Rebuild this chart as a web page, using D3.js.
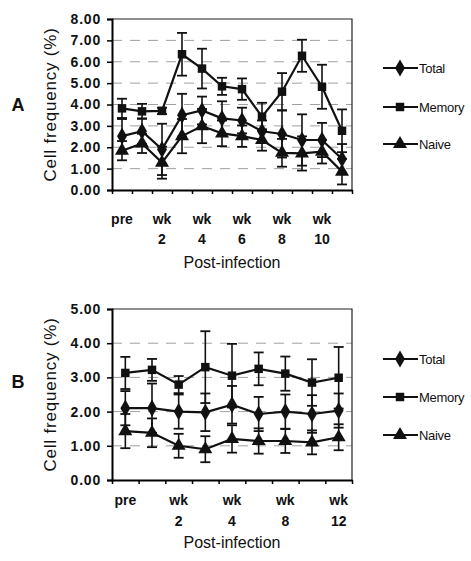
<!DOCTYPE html>
<html>
<head>
<meta charset="utf-8">
<script src="https://d3js.org/d3.v7.min.js"></script>
<title>Cell frequency post-infection</title>
</head>
<style>
body { margin: 0; background: #fff; }
svg { display: block; }
text { font-family: "Liberation Sans", Arial, sans-serif; fill: #111; }
</style>
<body>
<svg width="471" height="561"></svg>
</body>
<script>

// panel A: pre + weeks 1..11
let catsA = ["pre","wk 1","wk 2","wk 3","wk 4","wk 5","wk 6","wk 7","wk 8","wk 9","wk 10","wk 11"];
let shownA = ["pre","","wk 2","","wk 4","","wk 6","","wk 8","","wk 10",""];
let totalA  = [2.52, 2.75, 1.90, 3.50, 3.72, 3.35, 3.25, 2.75, 2.62, 2.34, 2.34, 1.45];
let totalErrA = [0.80, 0.60, 1.20, 1.00, 0.65, 0.80, 0.60, 0.50, 1.10, 1.20, 0.80, 0.70];
let memoryA = [3.82, 3.68, 3.70, 6.35, 5.68, 4.85, 4.72, 3.43, 4.60, 6.28, 4.83, 2.77];
let memoryErrA = [0.45, 0.35, 0.15, 1.00, 0.93, 0.40, 0.50, 0.65, 0.87, 0.75, 1.03, 1.00];
let naiveA  = [1.84, 2.18, 1.28, 2.52, 2.99, 2.65, 2.52, 2.34, 1.74, 1.71, 1.79, 0.86];
let naiveErrA = [0.45, 0.45, 0.75, 0.80, 0.80, 0.60, 0.50, 0.50, 0.65, 0.80, 0.55, 0.60];
let yTicksA = [0,1,2,3,4,5,6,7,8];

// panel B
let catsB = ["pre","wk 1","wk 2","wk 3","wk 4","wk 6","wk 8","wk 10","wk 12"];
let shownB = ["pre","","wk 2","","wk 4","","wk 8","","wk 12"];
let totalB  = [2.10, 2.10, 2.00, 1.98, 2.20, 1.93, 2.00, 1.93, 2.03];
let totalErrB = [0.50, 0.72, 0.50, 0.55, 0.55, 0.50, 0.50, 0.55, 0.50];
let memoryB = [3.13, 3.22, 2.79, 3.30, 3.05, 3.25, 3.11, 2.85, 2.99];
let memoryErrB = [0.47, 0.32, 0.25, 1.05, 0.93, 0.48, 0.50, 0.68, 0.90];
let naiveB  = [1.43, 1.38, 1.00, 0.90, 1.20, 1.14, 1.14, 1.10, 1.25];
let naiveErrB = [0.50, 0.42, 0.35, 0.38, 0.40, 0.37, 0.35, 0.35, 0.38];
let yTicksB = [0,1,2,3,4,5];

let seriesNames = ["Total","Memory","Naive"];
let symbols = [d3.symbolDiamond, d3.symbolSquare, d3.symbolTriangle];
let symbolSizes = [85, 72, 85];

let svg = d3.select("svg");

function drawPanel(p) {
  let g = svg.append("g");
  let n = p.cats.length;
  let x = d3.scaleLinear().domain([0, n]).range([112, 352]);
  let y = d3.scaleLinear().domain([0, d3.max(p.yTicks)]).range([p.bottom, p.top]);

  // faint dashed gridlines
  g.selectAll(".grid").data(p.yTicks.slice(1, -1)).enter().append("line")
    .attr("x1", x(0)).attr("x2", x(n))
    .attr("y1", d => y(d)).attr("y2", d => y(d))
    .attr("stroke", "#a0a0a0").attr("stroke-width", 1)
    .attr("stroke-dasharray", "10,8");

  // frame top/right
  g.append("path")
    .attr("d", "M" + x(0) + "," + y.range()[1] + "H" + x(n) + "V" + y.range()[0])
    .attr("fill", "none").attr("stroke", "#222").attr("stroke-width", 1.2);

  let yAxis = g.append("g").attr("transform", "translate(" + x(0) + ",0)")
    .call(d3.axisLeft(y).tickValues(p.yTicks).tickFormat(d3.format(".2f")).tickSize(5).tickPadding(6));
  yAxis.select(".domain").attr("stroke-width", 2);
  yAxis.selectAll(".tick line").attr("stroke-width", 1.5);
  yAxis.selectAll("text").attr("font-size", 14).attr("font-weight", "bold")
    .attr("letter-spacing", 0.8)
    .style("font-family", "'Liberation Sans', Arial, sans-serif").attr("fill", "#111");

  let xAxis = g.append("g").attr("transform", "translate(0," + p.bottom + ")")
    .call(d3.axisBottom(x).tickValues(d3.range(n + 1)).tickFormat("").tickSize(4).tickSizeOuter(0));
  xAxis.select(".domain").attr("stroke-width", 2);
  xAxis.selectAll(".tick line").attr("stroke-width", 1.5);

  // category labels, two lines
  let lab = g.selectAll(".xlab").data(p.shown).enter().append("text")
    .attr("text-anchor", "middle").attr("font-size", 14).attr("font-weight", "bold")
    .attr("x", (d, i) => x(i + 0.5));
  lab.each(function(d) {
    let parts = d.split(" ");
    let t = d3.select(this);
    parts.forEach((s, k) => {
      if (s) t.append("tspan").attr("x", t.attr("x")).attr("y", p.labelY + k * p.labelGap).text(s);
    });
  });

  g.append("text").attr("x", 232).attr("y", p.titleY)
    .attr("text-anchor", "middle").attr("font-size", 16).text("Post-infection");

  g.append("text")
    .attr("transform", "translate(56," + ((p.top + p.bottom) / 2) + ") rotate(-90)")
    .attr("text-anchor", "middle").attr("font-size", 17).attr("letter-spacing", 0.8)
    .text("Cell frequency (%)");

  g.append("text").attr("x", 18).attr("y", p.letterY).attr("text-anchor", "middle")
    .attr("font-size", 18).attr("font-weight", "bold").text(p.letter);

  // series: error bars, line, markers
  p.series.forEach((s, si) => {
    let sg = g.append("g");
    let cap = 5;
    s.vals.forEach((v, i) => {
      let cx = x(i + 0.5);
      let lo = y(v - s.err[i]), hi = y(v + s.err[i]);
      sg.append("line").attr("x1", cx).attr("x2", cx).attr("y1", lo).attr("y2", hi)
        .attr("stroke", "#111").attr("stroke-width", 1.6);
      [lo, hi].forEach(yy => sg.append("line")
        .attr("x1", cx - cap).attr("x2", cx + cap).attr("y1", yy).attr("y2", yy)
        .attr("stroke", "#111").attr("stroke-width", 1.8));
    });
    sg.append("path").datum(s.vals)
      .attr("d", d3.line().x((d, i) => x(i + 0.5)).y(d => y(d)))
      .attr("fill", "none").attr("stroke", "#111").attr("stroke-width", 2.2);
    sg.selectAll(".pt").data(s.vals).enter().append("path")
      .attr("transform", (d, i) => "translate(" + x(i + 0.5) + "," + y(d) + ")")
      .attr("d", d3.symbol().type(symbols[si]).size(symbolSizes[si]))
      .attr("fill", "#111");
  });

  // legend
  seriesNames.forEach((name, si) => {
    let ly = p.legendY[si];
    g.append("line").attr("x1", 383).attr("x2", 418).attr("y1", ly).attr("y2", ly)
      .attr("stroke", "#111").attr("stroke-width", 2);
    g.append("path").attr("transform", "translate(400," + ly + ")")
      .attr("d", d3.symbol().type(symbols[si]).size(symbolSizes[si])).attr("fill", "#111");
    g.append("text").attr("x", 419).attr("y", ly + 4.5).attr("font-size", 13)
      .attr("letter-spacing", -0.3).text(name);
  });
}

drawPanel({
  cats: catsA, shown: shownA, yTicks: yTicksA, top: 19, bottom: 190,
  labelY: 224, labelGap: 20, titleY: 268,
  letter: "A", letterY: 111, legendY: [68, 107, 144],
  series: [
    {vals: totalA, err: totalErrA},
    {vals: memoryA, err: memoryErrA},
    {vals: naiveA, err: naiveErrA}
  ]
});

drawPanel({
  cats: catsB, shown: shownB, yTicks: yTicksB, top: 309, bottom: 480,
  labelY: 505, labelGap: 21, titleY: 548,
  letter: "B", letterY: 388, legendY: [359, 397, 435],
  series: [
    {vals: totalB, err: totalErrB},
    {vals: memoryB, err: memoryErrB},
    {vals: naiveB, err: naiveErrB}
  ]
});

</script>
</html>
